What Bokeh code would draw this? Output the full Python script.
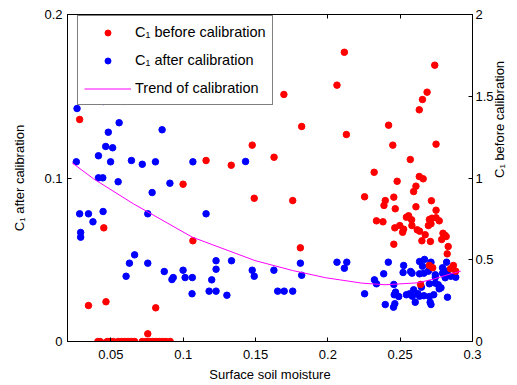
from bokeh.plotting import figure
from bokeh.models import (Range1d, LinearAxis, FixedTicker, CustomJSTickFormatter,
                          Legend, LegendItem)
from bokeh.embed import file_html
from bokeh.resources import INLINE

# ---- data ----
# C1 before calibration (right axis)
red_x = [0.0284, 0.0451, 0.0345, 0.0466, 0.081, 0.0755, 0.0999, 0.1067,
         0.041, 0.0425, 0.0455, 0.0475, 0.0494, 0.0516, 0.055, 0.0574, 0.0596, 0.0619,
         0.0642, 0.0664, 0.0717, 0.0744, 0.0767, 0.079, 0.0813, 0.0835, 0.0858, 0.0881, 0.091,
         0.2063, 0.1696, 0.1819, 0.2128, 0.1477, 0.1628, 0.1158, 0.1332, 0.1491, 0.1757, 0.181,
         0.2114, 0.2739, 0.2686, 0.2654, 0.2632, 0.242, 0.2449, 0.2748, 0.257, 0.232,
         0.2632, 0.2659, 0.2479, 0.2609, 0.2593, 0.2254, 0.2456, 0.2397, 0.2388, 0.2716,
         0.2609, 0.2466, 0.2748, 0.2336, 0.2381, 0.2543, 0.2558, 0.2579, 0.2702, 0.272,
         0.2748, 0.277, 0.2695, 0.2713, 0.2581, 0.2497, 0.2463, 0.2524, 0.2517, 0.2618,
         0.2634, 0.2673, 0.2796, 0.2809, 0.2818, 0.2787, 0.265, 0.2709, 0.2456, 0.2832,
         0.2825, 0.2702, 0.2725, 0.2868, 0.2848, 0.2884, 0.2641]
red_y = [1.358, 0.695, 0.220, 0.243, 0.206, 0.047, 0.962, 0.616,
         0.0, 0.0, -0.01, 0.0, 0.0, 0.0, 0.0, 0.0, 0.0, 0.0,
         0.0, 0.0, 0.0, 0.0, 0.0, 0.0, 0.0, 0.0, 0.0, 0.0, 0.0,
         1.568, 1.511, 1.315, 1.266, 1.201, 1.127, 1.107, 1.078, 0.876, 0.862, 0.573,
         1.769, 1.690, 1.525, 1.480, 1.417, 1.323, 1.201, 1.207, 1.113, 1.035,
         1.009, 0.995, 0.980, 0.950, 0.917, 0.885, 0.883, 0.862, 0.832, 0.861,
         0.824, 0.812, 0.803, 0.738, 0.732, 0.760, 0.769, 0.744, 0.746, 0.754,
         0.757, 0.738, 0.709, 0.720, 0.709, 0.709, 0.695, 0.687, 0.668, 0.683,
         0.675, 0.653, 0.662, 0.650, 0.642, 0.624, 0.616, 0.612, 0.595, 0.581,
         0.536, 0.465, 0.451, 0.465, 0.445, 0.430, 0.349]

# C1 after calibration (left axis)
blue_x = [0.0266, 0.0448, 0.0591, 0.0557, 0.0482, 0.0854, 0.0464, 0.0512, 0.0261, 0.0414,
          0.0498, 0.0642, 0.0717, 0.0808, 0.1067, 0.0414, 0.0444, 0.0550, 0.0908, 0.0785,
          0.0284, 0.0345, 0.0446, 0.0376, 0.0755, 0.0291, 0.0291, 0.0664, 0.0628, 0.0755,
          0.0605, 0.0869, 0.0999, 0.0922, 0.0931, 0.1013, 0.1063, 0.1061,
          0.1431, 0.1158, 0.1227, 0.1334, 0.1227, 0.1197, 0.1477, 0.1491, 0.1627, 0.181,
          0.1819, 0.2063, 0.2131, 0.2114, 0.1179, 0.1227, 0.1302, 0.1653, 0.1698, 0.1757,
          0.2254, 0.2322, 0.2336, 0.2386, 0.2418, 0.2397, 0.2454, 0.2463, 0.2456, 0.2459,
          0.2468, 0.2490, 0.2524, 0.2520, 0.2543, 0.2565, 0.2572, 0.2582, 0.2584, 0.2593,
          0.2604, 0.2623, 0.2634, 0.2668, 0.2654, 0.2713, 0.2634, 0.2664, 0.2695, 0.2634,
          0.2664, 0.2647, 0.2702, 0.2702, 0.2707, 0.2713, 0.2732, 0.2743, 0.2743, 0.2743,
          0.2763, 0.2770, 0.2782, 0.2793, 0.2793, 0.2821, 0.2825, 0.2827, 0.2811, 0.2850,
          0.2884]
blue_y = [0.1425, 0.1468, 0.1468, 0.1338, 0.1280, 0.1295, 0.1193, 0.1185, 0.1099, 0.1136,
          0.1099, 0.1107, 0.1084, 0.1099, 0.1099, 0.1001, 0.1001, 0.0977, 0.0968, 0.0911,
          0.0781, 0.0781, 0.0795, 0.0732, 0.0781, 0.0667, 0.0638, 0.0530, 0.0479, 0.0479,
          0.0399, 0.0428, 0.0436, 0.0379, 0.0391, 0.0391, 0.0391, 0.0292,
          0.1101, 0.0781, 0.0494, 0.0494, 0.0442, 0.0377, 0.0436, 0.0399, 0.0436, 0.0479,
          0.0405, 0.0485, 0.0485, 0.0448, 0.0308, 0.0308, 0.0283, 0.0308, 0.0308, 0.0308,
          0.0292, 0.0377, 0.0353, 0.0414, 0.0485, 0.0226, 0.0210, 0.0231, 0.0349, 0.0286,
          0.0302, 0.0275, 0.0465, 0.0422, 0.0286, 0.0292, 0.0428, 0.0418, 0.0277, 0.0316,
          0.0240, 0.0292, 0.0489, 0.0502, 0.0461, 0.0485, 0.0414, 0.0418, 0.0430, 0.0277,
          0.0280, 0.0332, 0.0353, 0.0275, 0.0240, 0.0226, 0.0286, 0.0408, 0.0393, 0.0357,
          0.0347, 0.0322, 0.0328, 0.0418, 0.0451, 0.0485, 0.0430, 0.0271, 0.0390, 0.0399,
          0.0393]

# Trend of calibration (left axis)
trend_x = [0.0232, 0.038, 0.0656, 0.1063, 0.1496, 0.1757, 0.1985, 0.2235, 0.2395, 0.2623,
           0.2736, 0.285, 0.2919]
trend_y = [0.1093, 0.0995, 0.0842, 0.0638, 0.0495, 0.0434, 0.0390, 0.0357, 0.0347, 0.0359,
           0.0383, 0.0414, 0.0430]

x_ticks = [0.05, 0.1, 0.15, 0.2, 0.25, 0.3]
left_ticks = [0, 0.1, 0.2]
right_ticks = [0, 0.5, 1, 1.5, 2]

FONT = "Liberation Sans"

p = figure(width=517, height=385, output_backend="svg", toolbar_location=None,
           x_range=Range1d(0.02, 0.3), y_range=Range1d(0, 0.2),
           min_border_left=67, min_border_right=40, min_border_top=14, min_border_bottom=44)
p.extra_y_ranges = {"right": Range1d(0, 2)}
p.background_fill_color = "white"
p.border_fill_color = "white"
p.grid.visible = False
p.outline_line_color = "black"
p.outline_line_width = 1
p.outline_line_alpha = 1

fmt = CustomJSTickFormatter(code="return String(parseFloat(tick.toFixed(3)));")

def style_axis(ax, ticks):
    ax.ticker = FixedTicker(ticks=ticks)
    ax.formatter = fmt
    ax.minor_tick_line_color = None
    ax.major_tick_in = 4
    ax.major_tick_out = 0
    ax.axis_line_color = "black"
    ax.major_tick_line_color = "black"
    ax.major_label_text_color = "black"
    ax.major_label_text_font = FONT
    ax.major_label_text_font_size = "13px"
    ax.axis_label_text_font = FONT
    ax.axis_label_text_font_size = "13px"
    ax.axis_label_text_font_style = "normal"
    ax.axis_label_text_color = "black"

xa = p.xaxis[0]
style_axis(xa, x_ticks)
xa.axis_label = "Surface soil moisture"
xa.major_label_standoff = 8
xa.axis_label_standoff = 5

ya = p.yaxis[0]
style_axis(ya, left_ticks)
ya.axis_label = "C\u2081 after calibration"
ya.major_label_standoff = 5
ya.axis_label_standoff = 14

ra = LinearAxis(y_range_name="right")
style_axis(ra, right_ticks)
ra.axis_label = "C\u2081 before calibration"
ra.axis_label_orientation = 1.5707963
ra.major_label_standoff = 3
ra.axis_label_standoff = 3
p.add_layout(ra, "right")

ta = LinearAxis()
style_axis(ta, x_ticks)
ta.formatter = CustomJSTickFormatter(code="return '';")
ta.major_label_standoff = 0
p.add_layout(ta, "above")

rb = p.scatter(blue_x, blue_y, size=6.5, color="#0000ff", line_color="#0000ff")
rr = p.scatter(red_x, red_y, size=6.5, color="#ff0000", line_color="#ff0000", y_range_name="right")
rl = p.line(trend_x, trend_y, line_color="#ff00ff", line_width=1)

legend = Legend(items=[LegendItem(label="C\u2081 before calibration", renderers=[rr]),
                       LegendItem(label="C\u2081 after calibration", renderers=[rb]),
                       LegendItem(label="Trend of calibration", renderers=[rl])],
                location=(10, 236))
legend.label_text_font = FONT
legend.label_text_font_size = "14.5px"
legend.label_text_color = "black"
legend.border_line_color = "black"
legend.border_line_width = 1
legend.background_fill_color = "white"
legend.background_fill_alpha = 1
legend.padding = 6
legend.spacing = 8
legend.label_height = 20
legend.glyph_height = 15
legend.glyph_width = 47
legend.label_standoff = 4
legend.margin = 0
p.add_layout(legend, "center")

open("out.html", "w").write(file_html(p, INLINE))
